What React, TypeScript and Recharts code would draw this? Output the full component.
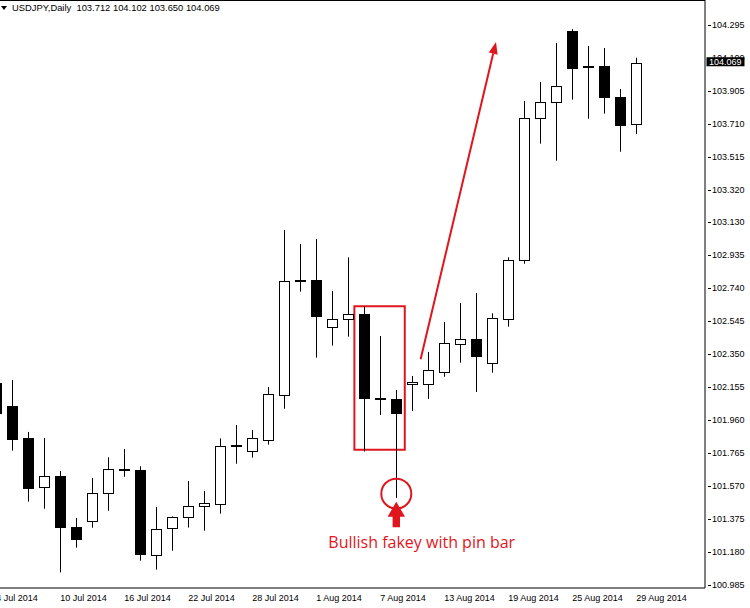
import React from "react";
import {
  Bar,
  ComposedChart,
  ReferenceArea,
  ReferenceDot,
  ReferenceLine,
  XAxis,
  YAxis,
} from "recharts";

// daily bars, index -1 is the partly hidden 4 Jul candle
const days = [
  "4 Jul", "7 Jul", "8 Jul", "9 Jul", "10 Jul", "11 Jul", "14 Jul", "15 Jul", "16 Jul", "17 Jul",
  "18 Jul", "21 Jul", "22 Jul", "23 Jul", "24 Jul", "25 Jul", "28 Jul", "29 Jul", "30 Jul", "31 Jul",
  "1 Aug", "4 Aug", "5 Aug", "6 Aug", "7 Aug", "8 Aug", "11 Aug", "12 Aug", "13 Aug", "14 Aug",
  "15 Aug", "18 Aug", "19 Aug", "20 Aug", "21 Aug", "22 Aug", "25 Aug", "26 Aug", "27 Aug", "28 Aug",
  "29 Aug",
];
const opens = [
  102.177, 102.043, 101.854, 101.563, 101.63, 101.328, 101.362, 101.527, 101.669, 101.665,
  101.161, 101.32, 101.385, 101.45, 101.466, 101.81, 101.776, 101.844, 102.106, 102.787,
  102.786, 102.508, 102.556, 102.585, 102.092, 102.083, 102.171, 102.175, 102.246, 102.408,
  102.437, 102.296, 102.56, 102.904, 103.744, 103.838, 104.26, 104.052, 104.051, 103.869,
  103.712,
];
const highs = [
  102.226, 102.197, 101.89, 101.854, 101.659, 101.381, 101.618, 101.74, 101.789, 101.687,
  101.446, 101.391, 101.6, 101.541, 101.852, 101.931, 101.901, 102.156, 103.083, 103.001,
  103.03, 102.723, 102.922, 102.63, 102.457, 102.138, 102.221, 102.362, 102.54, 102.652,
  102.711, 102.591, 102.922, 103.846, 103.958, 104.189, 104.271, 104.171, 104.159, 103.917,
  104.102,
];
const lows = [
  101.96, 101.779, 101.478, 101.436, 101.06, 101.206, 101.324, 101.424, 101.625, 101.129,
  101.076, 101.188, 101.325, 101.306, 101.407, 101.702, 101.738, 101.815, 102.027, 102.719,
  102.329, 102.4, 102.453, 101.774, 101.99, 101.5, 102.014, 102.085, 102.216, 102.299,
  102.126, 102.24, 102.512, 102.884, 103.594, 103.493, 103.854, 103.741, 103.771, 103.546,
  103.65,
];
const closes = [
  102.0, 101.851, 101.56, 101.628, 101.33, 101.259, 101.527, 101.671, 101.663, 101.167,
  101.315, 101.385, 101.45, 101.468, 101.805, 101.804, 101.852, 102.114, 102.78, 102.781,
  102.577, 102.556, 102.585, 102.092, 102.086, 102.004, 102.183, 102.254, 102.414, 102.437,
  102.34, 102.562, 102.904, 103.744, 103.838, 103.933, 104.043, 104.046, 103.871, 103.706,
  104.069,
];

const tickBars = [-1, 3, 7, 11, 15, 19, 23, 27, 31, 35, 39];
const tickLabels = [
  "4 Jul 2014", "10 Jul 2014", "16 Jul 2014", "22 Jul 2014", "28 Jul 2014", "1 Aug 2014",
  "7 Aug 2014", "13 Aug 2014", "19 Aug 2014", "25 Aug 2014", "29 Aug 2014",
];
const priceLevels = [
  104.295, 104.1, 103.905, 103.71, 103.515, 103.32, 103.13, 102.935, 102.74, 102.545,
  102.35, 102.155, 101.96, 101.765, 101.57, 101.375, 101.18, 100.985,
];
const lastClose = 104.069;

// annotations, in (bar index, price)
const boxX = [21.38, 24.53];
const boxY = [101.784, 102.633];
const pinCircle = { x: 24, y: 101.525 };
const pinArrowTip = { x: 24, y: 101.478 };
const trendFrom = { x: 25.52, y: 102.319 };
const trendTo = { x: 30.23, y: 104.195 };
const noteAt = { x: 25.59, y: 101.204 };
const noteText = "Bullish fakey with pin bar";

const RED = "#e0161e";
const FONT = "Liberation Sans, Arial, sans-serif";

const data = days.map((d, k) => ({
  i: k - 1,
  day: d,
  open: opens[k],
  high: highs[k],
  low: lows[k],
  close: closes[k],
  range: [lows[k], highs[k]],
}));

function Candle(props: any) {
  const { x, y, width, height, payload } = props;
  if (x == null || y == null || !payload) return null;
  const top = Math.min(y, y + height);
  const bot = Math.max(y, y + height);
  const span = payload.high - payload.low || 1;
  const px = (v: number) => top + ((payload.high - v) / span) * (bot - top);
  const cx = Math.round(x + width / 2) + 0.5;
  const yo = px(payload.open);
  const yc = px(payload.close);
  const up = payload.close > payload.open;
  const bt = Math.round(Math.min(yo, yc)) + 0.5;
  let bb = Math.round(Math.max(yo, yc)) + 0.5;
  if (bb - bt < 1) bb = bt + 1;
  return (
    <g>
      <line x1={cx} x2={cx} y1={top} y2={bot} stroke="#000" strokeWidth={1} />
      <rect x={cx - 5} y={bt} width={10} height={bb - bt} fill={up ? "#fff" : "#000"} stroke="#000" strokeWidth={1} />
    </g>
  );
}

function DateTick(props: any) {
  const { x, y, payload } = props;
  const k = tickBars.indexOf(payload.value);
  if (k < 0) return null;
  return (
    <text x={x} y={y + 13} textAnchor="start" fontSize={9} fontFamily={FONT} fill="#000">
      {tickLabels[k]}
    </text>
  );
}

function PriceTick(props: any) {
  const { x, y, payload } = props;
  if (payload.value === lastClose) {
    return (
      <g>
        <rect x={x + 1.5} y={y - 6} width={38} height={9} fill="#000" />
        <text x={x + 4} y={y + 2} fontSize={9} fontFamily={FONT} fill="#fff">
          {lastClose.toFixed(3)}
        </text>
      </g>
    );
  }
  return (
    <g>
      <line x1={x + 3} x2={x + 6} y1={Math.round(y) + 0.5} y2={Math.round(y) + 0.5} stroke="#000" />
      <text x={x + 7} y={y + 3} fontSize={9} fontFamily={FONT} fill="#000">
        {payload.value.toFixed(3)}
      </text>
    </g>
  );
}

function TrendArrow(p: any) {
  const { x1, y1, x2, y2 } = p;
  const ang = Math.atan2(y2 - y1, x2 - x1);
  const c = Math.cos(ang);
  const s = Math.sin(ang);
  const L = 12;
  const W = 4.5;
  const bx = x2 - L * c;
  const by = y2 - L * s;
  return (
    <g>
      <line x1={x1} y1={y1} x2={bx} y2={by} stroke={RED} strokeWidth={2} />
      <polygon
        points={`${x2},${y2} ${bx + W * s},${by - W * c} ${bx - W * s},${by + W * c}`}
        fill={RED}
      />
    </g>
  );
}

function PinArrow(p: any) {
  const { cx, cy } = p;
  const pts = [
    [cx, cy],
    [cx + 8.7, cy + 15],
    [cx + 3.7, cy + 15],
    [cx + 3.7, cy + 25.6],
    [cx - 3.7, cy + 25.6],
    [cx - 3.7, cy + 15],
    [cx - 8.7, cy + 15],
  ];
  return <polygon points={pts.map((q) => q.join(",")).join(" ")} fill={RED} />;
}

function Note(p: any) {
  const { cx, cy } = p;
  return (
    <text x={cx} y={cy} textAnchor="middle" fontSize={16} fontFamily="Open Sans, sans-serif" fill={RED}>
      {noteText}
    </text>
  );
}

export default function App() {
  return (
    <div style={{ position: "absolute", left: 0, top: 0, width: 750, height: 608, background: "#fff" }}>
      <ComposedChart
        width={750}
        height={608}
        data={data}
        margin={{ top: 0, right: 0, left: 0, bottom: 0 }}
      >
        <XAxis
          dataKey="i"
          type="number"
          domain={[-0.769, 43.294]}
          allowDataOverflow
          ticks={tickBars}
          interval={0}
          height={20}
          axisLine={{ stroke: "#000" }}
          tickLine={false}
          tickSize={0}
          tickMargin={0}
          tick={<DateTick />}
        />
        <YAxis
          orientation="right"
          type="number"
          domain={[100.9676, 104.4428]}
          allowDataOverflow
          ticks={[...priceLevels, lastClose]}
          interval={0}
          width={45}
          axisLine={{ stroke: "#000" }}
          tickLine={false}
          tickSize={0}
          tickMargin={0}
          tick={<PriceTick />}
        />
        <Bar dataKey="range" barSize={11} shape={<Candle />} isAnimationActive={false} />
        <ReferenceArea
          x1={boxX[0]}
          x2={boxX[1]}
          y1={boxY[0]}
          y2={boxY[1]}
          fill="none"
          fillOpacity={0}
          stroke={RED}
          strokeWidth={2}
        />
        <ReferenceDot x={pinCircle.x} y={pinCircle.y} r={15} fill="none" stroke={RED} strokeWidth={2} />
        <ReferenceDot x={pinArrowTip.x} y={pinArrowTip.y} r={1} shape={<PinArrow />} />
        <ReferenceLine segment={[trendFrom, trendTo]} shape={<TrendArrow />} />
        <ReferenceDot x={noteAt.x} y={noteAt.y} r={1} shape={<Note />} />
      </ComposedChart>
      <div style={{ position: "absolute", left: 0, top: 0, width: 705, height: 1, background: "#000" }} />
      <div
        style={{
          position: "absolute",
          left: 1,
          top: 2,
          fontFamily: FONT,
          fontSize: 9.4,
          lineHeight: "11px",
          whiteSpace: "pre",
          color: "#000",
          display: "flex",
          alignItems: "center",
        }}
      >
        <svg width={8} height={8} style={{ marginRight: 3 }}>
          <polygon points="0,2 6,2 3,6" fill="#000" />
        </svg>
        {"USDJPY,Daily  103.712 104.102 103.650 104.069"}
      </div>
    </div>
  );
}
